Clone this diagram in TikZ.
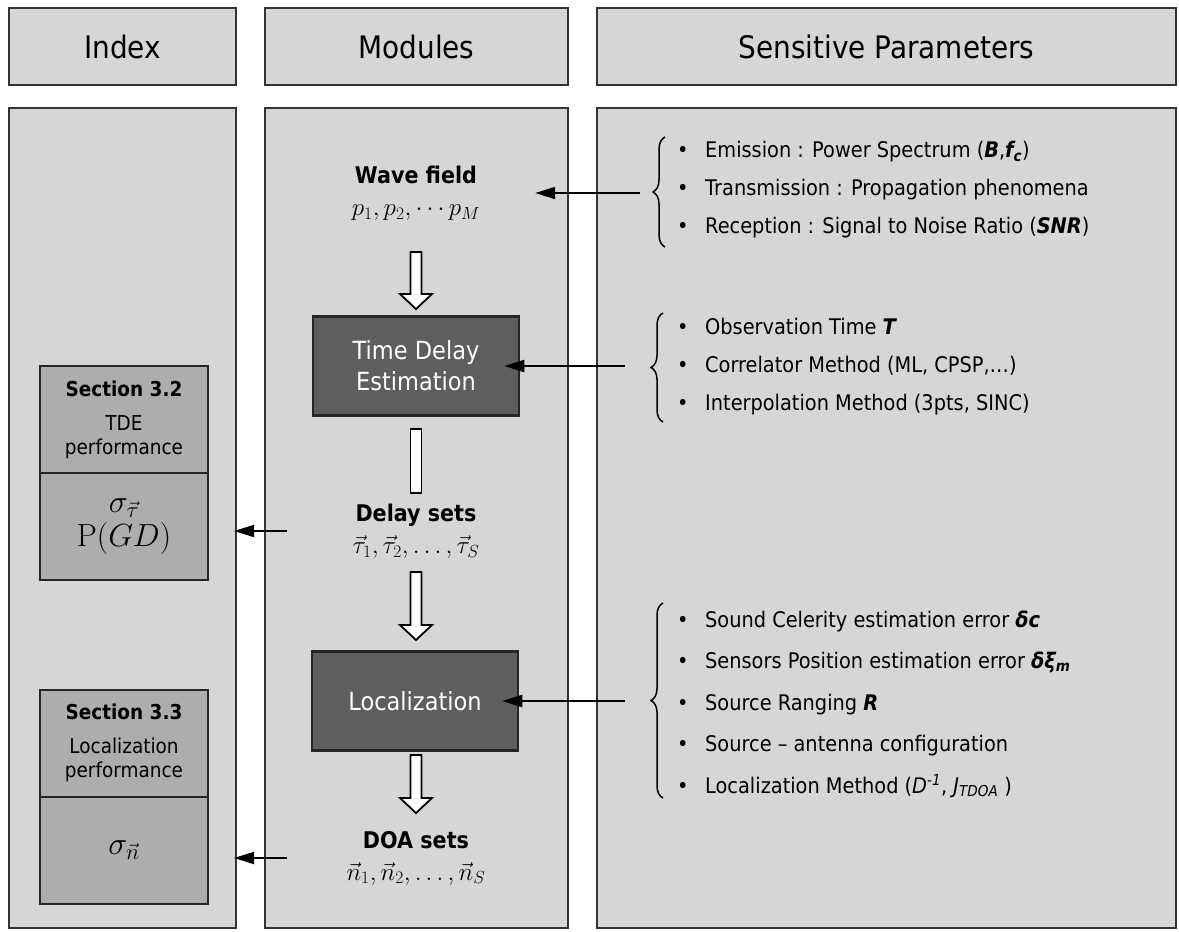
\RequirePackage{fix-cm}
\documentclass[tikz,border=0pt]{standalone}
\usepackage[no-math]{fontspec}
\setmainfont{DejaVu Sans}[FakeStretch=0.9]
\usetikzlibrary{arrows.meta,calc,decorations.pathreplacing}
\definecolor{panelgray}{gray}{0.84}
\definecolor{secgray}{gray}{0.68}
\definecolor{modgray}{gray}{0.37}
\newcommand{\bi}[1]{{\bfseries\itshape #1}}
\newcommand{\blt}{\makebox[28pt][l]{•}}
\newcommand{\harrow}[3]{\draw[hollow] ({#1-5.5},#2) -- ({#1+5.5},#2) -- ({#1+5.5},{#3-15}) -- ({#1+16},{#3-15}) -- (#1,#3) -- ({#1-16},{#3-15}) -- ({#1-5.5},{#3-15}) -- cycle;}
\tikzset{
  panel/.style={draw=black!80, line width=1.2pt, fill=panelgray, inner sep=0pt},
  header/.style={panel, font=\fontsize{31}{36}\selectfont},
  secbox/.style={draw=black!85, line width=2pt, fill=secgray, minimum width=168pt, minimum height=107pt, inner sep=0pt, align=center, font=\fontsize{20.5}{24}\selectfont},
  mathbox/.style={secbox, font=\fontsize{32}{36}\selectfont},
  modbox/.style={draw=black!85, line width=2.5pt, fill=modgray, text=white, minimum width=206pt, minimum height=99pt, inner sep=0pt, align=center, font=\fontsize{25}{31}\selectfont},
  lbl/.style={align=center, inner sep=0pt, font=\fontsize{23}{38}\selectfont},
  plist/.style={align=left, anchor=west, inner sep=0pt},
  feed/.style={line width=2pt, -{Triangle[length=20pt,width=12pt]}},
  hollow/.style={draw=black, line width=1.8pt, fill=white, line join=miter},
  pbrace/.style={decorate, decoration={brace, amplitude=12pt}, line width=1.5pt},
}
\begin{document}
\begin{tikzpicture}[x=1pt,y=-1pt]
\useasboundingbox (0,0) rectangle (1179,932);
\fill[white] (0,0) rectangle (1179,932);

% headers
\node[header, minimum width=227pt, minimum height=77pt] (hidx) at (122.5,46.5) {Index};
\node[header, minimum width=303pt, minimum height=77pt] (hmod) at (416.5,46.5) {Modules};
\node[header, minimum width=579pt, minimum height=77pt] (hpar) at (886.5,46.5) {Sensitive Parameters};

% column bodies
\node[panel, minimum width=227pt, minimum height=820pt] (bidx) at (122.5,518) {};
\node[panel, minimum width=303pt, minimum height=820pt] (bmod) at (416.5,518) {};
\node[panel, minimum width=579pt, minimum height=820pt] (bpar) at (886.5,518) {};

% index boxes
\node[secbox] (s1top) at (124,419.5) {{\bfseries Section 3.2}\\[10pt]TDE\\performance};
\node[mathbox] (s1bot) at (124,526.5) {$\sigma_{\vec{\tau}}$\\[-2pt]$\mathrm{P}\bigl(GD\bigr)$};
\node[secbox] (s2top) at (124,743) {{\bfseries Section 3.3}\\[10pt]Localization\\performance};
\node[mathbox] (s2bot) at (124,850.5) {\raisebox{-8pt}{$\sigma_{\vec{n}}$}};

% modules
\node[lbl, minimum width=238pt] (wave) at (416,193) {\textbf{Wave field}\\[-6pt]\fontsize{25}{30}\selectfont $p_1, p_2, \cdots p_M$};
\node[modbox] (tde) at (416,366) {Time Delay\\Estimation};
\node[lbl, minimum width=258pt] (delay) at (416,531) {\textbf{Delay sets}\\[-6pt]\fontsize{25}{30}\selectfont $\vec{\tau}_1, \vec{\tau}_2, \ldots, \vec{\tau}_S$};
\node[modbox] (loc) at (415,701) {Localization};
\node[lbl, minimum width=258pt] (doa) at (416,858) {\textbf{DOA sets}\\[-6pt]\fontsize{25}{30}\selectfont $\vec{n}_1, \vec{n}_2, \ldots, \vec{n}_S$};

% hollow arrows
\harrow{416}{252}{309}
\draw[hollow] (410.5,429) rectangle (421.5,493);
\harrow{416}{572}{640}
\harrow{416}{755}{813}

% parameter lists
\node[plist, font=\fontsize{21.5}{38}\selectfont] (g1) at (677,190) {\blt Emission : Power Spectrum (\bi{B},\bi{f}\textsubscript{\bi{c}})\\
\blt Transmission : Propagation phenomena\\
\blt Reception : Signal to Noise Ratio (\bi{SNR})};
\node[plist, font=\fontsize{21.5}{38}\selectfont] (g2) at (677,367) {\blt Observation Time \bi{T}\\
\blt Correlator Method (ML, CPSP,…)\\
\blt Interpolation Method (3pts, SINC)};
\node[plist, font=\fontsize{21.5}{41.5}\selectfont] (g3) at (677,704) {\blt Sound Celerity estimation error \bi{δc}\\
\blt Sensors Position estimation error \bi{δξ}\textsubscript{\bi{m}}\\
\blt Source Ranging \bi{R}\\
\blt Source – antenna configuration\\
\blt Localization Method (\textit{D}\textsuperscript{\textit{-1}}, \textit{J}\textsubscript{\textit{TDOA}} )};

% braces
\draw[pbrace] (665,247) -- (665,137);
\draw[pbrace] (663,422) -- (663,313);
\draw[pbrace] (663,798) -- (663,603);

% feed arrows
\coordinate (c1) at (640,193);
\coordinate (c2) at (625,366);
\coordinate (c3) at (625,701);
\draw[feed] (c1) -- (wave.east);
\draw[feed, shorten >=-16pt] (c2) -- (tde.east);
\draw[feed, shorten >=-17pt] (c3) -- (loc.east);
\draw[feed, shorten >=25pt] (delay.west) -- (delay.west -| s1bot.east);
\draw[feed, shorten >=25pt] (doa.west) -- (doa.west -| s2bot.east);
\end{tikzpicture}
\end{document}
